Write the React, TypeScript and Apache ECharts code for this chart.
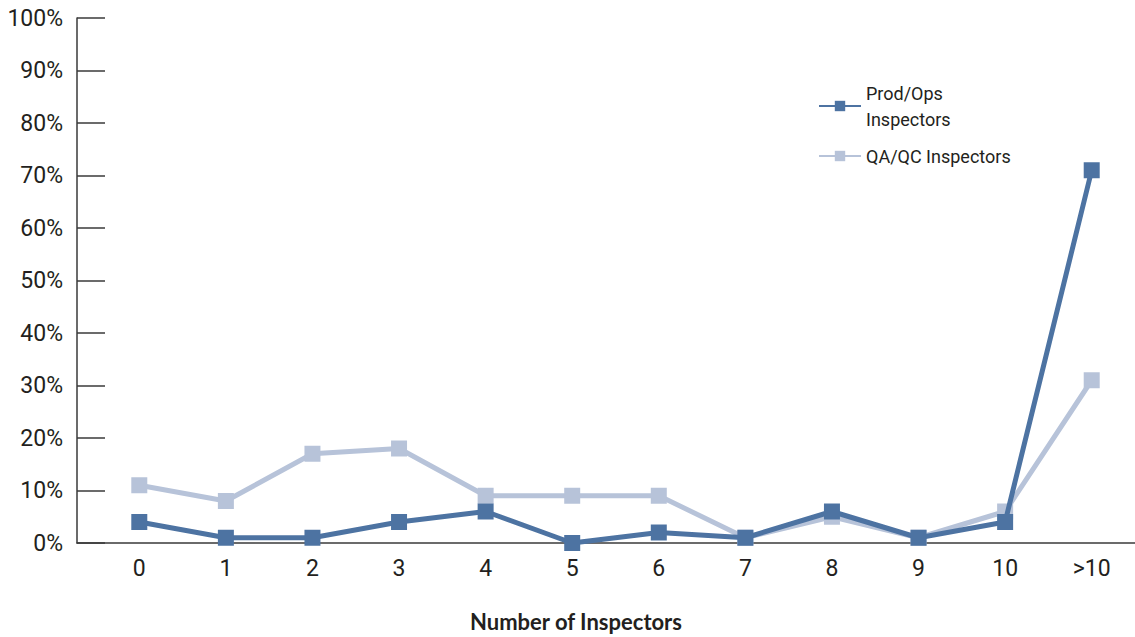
import React, { useEffect, useRef } from "react";
import * as echarts from "echarts";

const categories = ["0", "1", "2", "3", "4", "5", "6", "7", "8", "9", "10", ">10"];
const prodOps = [4, 1, 1, 4, 6, 0, 2, 1, 6, 1, 4, 71];
const qaQc = [11, 8, 17, 18, 9, 9, 9, 1, 5, 1, 6, 31];
const seriesNames = ["Prod/Ops\nInspectors", "QA/QC Inspectors"];

const NARROW = "Roboto, sans-serif";
const TEXT = "#231f20";
const DARK = "#4d73a2";
const LIGHT = "#b7c3d9";

export default function App() {
  const ref = useRef<HTMLDivElement>(null);

  useEffect(() => {
    if (!ref.current) return;
    const chart = echarts.init(ref.current, null, { renderer: "svg" });
    chart.setOption({
      animation: false,
      backgroundColor: "#ffffff",
      title: {
        text: "Number of Inspectors",
        left: 576,
        top: 609,
        padding: 0,
        textAlign: "center",
        textStyle: { fontFamily: "Lato", fontWeight: "bold", fontSize: 22, color: TEXT, lineHeight: 24 },
      },
      legend: {
        orient: "vertical",
        left: 813,
        top: 75,
        itemGap: 11,
        itemWidth: 42,
        itemHeight: 13,
        data: seriesNames,
        textStyle: { fontFamily: NARROW, fontSize: 18, color: TEXT, lineHeight: 26 },
      },
      grid: [
        // frame grid: carries the visible axes
        { left: 77, right: 0, top: 18, bottom: 94 },
        // data grid: category bands centred on the labels
        { left: 96, right: -14, top: 18, bottom: 94 },
      ],
      xAxis: [
        {
          gridIndex: 0,
          type: "value",
          min: 0,
          max: 1,
          axisLine: { show: true, lineStyle: { color: "#3a3a3a", width: 1.5 } },
          axisTick: { show: false },
          axisLabel: { show: false },
          splitLine: { show: false },
        },
        {
          gridIndex: 1,
          type: "category",
          data: categories,
          boundaryGap: true,
          axisLine: { show: false },
          axisTick: { show: false },
          axisLabel: { fontFamily: NARROW, fontSize: 23, color: TEXT, margin: 14 },
        },
      ],
      yAxis: [
        {
          gridIndex: 0,
          type: "value",
          min: 0,
          max: 100,
          interval: 10,
          axisLine: { show: true, lineStyle: { color: "#3a3a3a", width: 1.5 } },
          axisTick: { show: true, inside: true, length: 28, lineStyle: { color: "#3a3a3a", width: 1.5 } },
          axisLabel: { formatter: "{value}%", fontFamily: NARROW, fontSize: 23, color: TEXT, margin: 14 },
          splitLine: { show: false },
        },
        {
          gridIndex: 1,
          type: "value",
          min: 0,
          max: 100,
          show: false,
        },
      ],
      series: [
        {
          name: seriesNames[1],
          type: "line",
          xAxisIndex: 1,
          yAxisIndex: 1,
          data: qaQc,
          symbol: "rect",
          symbolSize: 16,
          color: LIGHT,
          lineStyle: { width: 5, color: LIGHT },
          itemStyle: { color: LIGHT },
          z: 2,
        },
        {
          name: seriesNames[0],
          type: "line",
          xAxisIndex: 1,
          yAxisIndex: 1,
          data: prodOps,
          symbol: "rect",
          symbolSize: 16,
          color: DARK,
          lineStyle: { width: 5, color: DARK },
          itemStyle: { color: DARK },
          z: 3,
        },
      ],
    });
    return () => chart.dispose();
  }, []);

  return (
    <div
      ref={ref}
      style={{ position: "fixed", left: 0, top: 0, width: 1135, height: 637 }}
    />
  );
}
